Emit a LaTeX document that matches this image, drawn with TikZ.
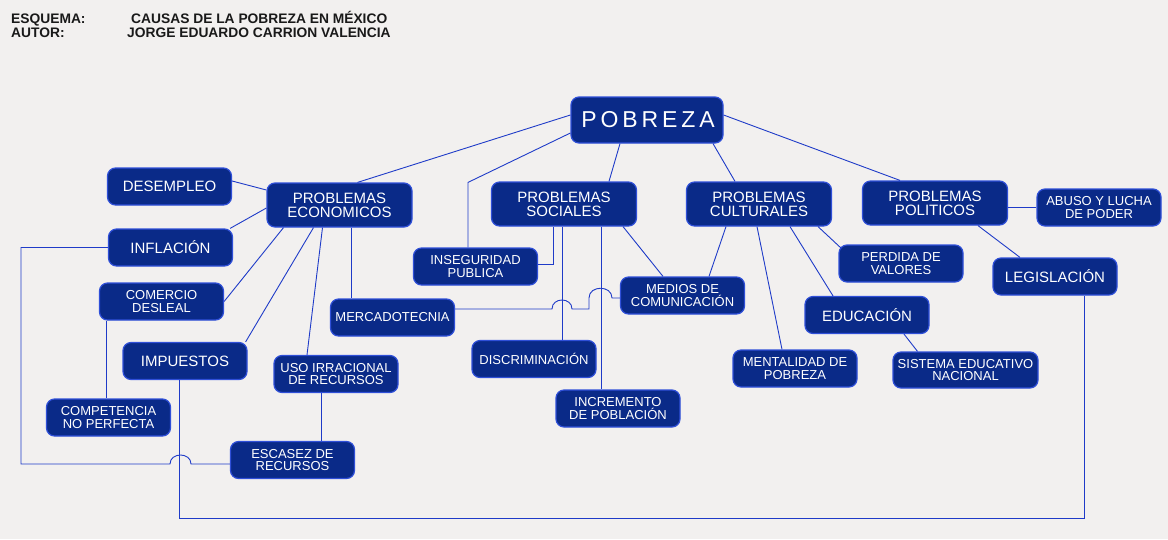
\documentclass[tikz,border=0pt]{standalone}
\usepackage{fontspec}
\setmainfont{Liberation Sans}
\newfontfamily\spacedfont[LetterSpace=17]{Liberation Sans}
\definecolor{paper}{HTML}{F2F0EF}
\definecolor{boxfill}{HTML}{0A2A88}
\definecolor{boxedge}{HTML}{2F4FD8}
\definecolor{linkblue}{HTML}{1F3BC8}

\tikzset{
  box/.style={draw=boxedge, fill=boxfill, line width=1.2pt, rounded corners=8pt,
    text=white, align=center, inner sep=0pt, minimum width=124pt, minimum height=37pt,
    font=\fontsize{13}{12.5}\selectfont},
  bigbox/.style={box, font=\fontsize{15}{14.3}\selectfont},
  probbox/.style={bigbox, minimum width=145pt, minimum height=44pt},
  head/.style={inner sep=0pt, anchor=base west, text=black!90, font=\fontsize{13.8}{13.8}\selectfont\bfseries},
  link/.style={draw=linkblue, line width=0.9pt}
}

\begin{document}
\begin{tikzpicture}[x=1pt, y=-1pt]
  % Page and margins as in the original sheet
  \fill[paper] (0,0) rectangle (1168,539);
  \useasboundingbox (0,0) rectangle (1168,539);

  % Header
  \node[head] (esquema) at (11,23) {ESQUEMA:};
  \node[head] (autor) at (11,37) {AUTOR:};
  \node[head] (tema) at (131,23) {CAUSAS DE LA POBREZA EN MÉXICO};
  \node[head] (nombre) at (127,37) {JORGE EDUARDO CARRION VALENCIA};

  % Central concept
  \node[box, minimum width=152pt, minimum height=46pt, font=\spacedfont\fontsize{23}{23}\selectfont]
    (pobreza) at (647,120) {\kern2pt POBREZA};

  % Main branches
  \node[probbox] (econ) at (339.5,205) {PROBLEMAS\\ECONOMICOS};
  \node[probbox] (social) at (564,204) {PROBLEMAS\\SOCIALES};
  \node[probbox] (cultural) at (759,204) {PROBLEMAS\\CULTURALES};
  \node[probbox] (politic) at (935,203) {PROBLEMAS\\POLITICOS};

  % Economic causes
  \node[bigbox] (desempleo) at (169.5,186.5) {DESEMPLEO};
  \node[bigbox] (inflacion) at (170.5,247.5) {INFLACIÓN};
  \node[box] (comercio) at (161.5,301.5) {COMERCIO\\DESLEAL};
  \node[bigbox] (impuestos) at (185,361) {IMPUESTOS};
  \node[box] (uso) at (336,374) {USO IRRACIONAL\\DE RECURSOS};
  \node[box] (competencia) at (108.5,417.5) {COMPETENCIA\\NO PERFECTA};
  \node[box] (escasez) at (292.5,460) {ESCASEZ DE\\RECURSOS};
  \node[box] (mercado) at (392.5,317.5) {MERCADOTECNIA};

  % Social causes
  \node[box] (inseg) at (475.5,266.5) {INSEGURIDAD\\PUBLICA};
  \node[box] (discrim) at (534,359) {DISCRIMINACIÓN};
  \node[box] (increm) at (618,408.5) {INCREMENTO\\DE POBLACIÓN};
  \node[box] (medios) at (682.5,295.5) {MEDIOS DE\\COMUNICACIÓN};

  % Cultural causes
  \node[box] (perdida) at (901,263.5) {PERDIDA DE\\VALORES};
  \node[bigbox] (educacion) at (867,315) {EDUCACIÓN};
  \node[box] (mentalidad) at (795,368.5) {MENTALIDAD DE\\POBREZA};
  \node[box, minimum width=145pt, minimum height=36pt] (sistema) at (965.5,370) {SISTEMA EDUCATIVO\\NACIONAL};

  % Political causes
  \node[box] (abuso) at (1099,207.5) {ABUSO Y LUCHA\\DE PODER};
  \node[bigbox] (legis) at (1055,276.5) {LEGISLACIÓN};

  % Links from the centre
  \draw[link] ([yshift=5pt]pobreza.west) -- ([xshift=18pt]econ.north);
  \draw[link] ([yshift=-13pt]pobreza.west) -- ([xshift=-7.5pt]inseg.north |- econ.north) -- ([xshift=-7.5pt]inseg.north);
  \draw[link] ([xshift=-27pt]pobreza.south) -- ([xshift=45pt]social.north);
  \draw[link] ([xshift=66pt]pobreza.south) -- ([xshift=-24pt]cultural.north);
  \draw[link] ([yshift=5pt]pobreza.east) -- ([xshift=-35pt]politic.north);

  % Economic links
  \draw[link] ([yshift=5.5pt]desempleo.east) -- ([yshift=15pt]econ.west);
  \draw[link] ([xshift=-3pt]inflacion.north east) -- ([yshift=-3pt]econ.west);
  \draw[link] (comercio.east) -- ([xshift=-56pt]econ.south);
  \draw[link] ([xshift=-2pt]impuestos.north east) -- ([xshift=-26pt]econ.south);
  \draw[link] ([xshift=-29pt]uso.north) -- ([xshift=-17pt]econ.south);
  \draw[link] ([xshift=12pt]econ.south) -- ([xshift=12pt]econ.south |- mercado.north);
  \draw[link] ([xshift=-15pt]uso.south) -- ([xshift=-15pt]uso.south |- escasez.north);
  \draw[link] ([xshift=-55pt]comercio.south) -- ([xshift=-55pt]comercio.south |- competencia.north);
  \draw[link] (inflacion.west) -- (21,247.5) -- (21,464) -- (170,464)
    .. controls (170,452) and (191,452) .. (191,464) -- ([yshift=-4pt]escasez.west);
  \draw[link] ([xshift=-6pt]impuestos.south) -- ++(0,138) -| ([xshift=29pt]legis.south);

  % Social links
  \draw[link] ([yshift=2.5pt]inseg.east) -| ([xshift=-11pt]social.south);
  \draw[link] ([xshift=-2pt]social.south) -- ([xshift=-2pt]social.south |- discrim.north);
  \draw[link] ([xshift=37pt]social.south) -- ([xshift=37pt]social.south |- increm.north);
  \draw[link] ([xshift=59pt]social.south) -- ([xshift=-19.5pt]medios.north);
  \draw[link] ([yshift=8.5pt]mercado.east) -- (552,309)
    .. controls (552,297) and (572,297) .. (572,309) -- (589,309) -- (589,298)
    .. controls (589,285) and (612,285) .. (612,298) -- ([yshift=-2.5pt]medios.west);

  % Cultural links
  \draw[link] ([xshift=-33pt]cultural.south) -- ([xshift=26.5pt]medios.north);
  \draw[link] ([xshift=-2pt]cultural.south) -- ([xshift=-13pt]mentalidad.north);
  \draw[link] ([xshift=31pt]cultural.south) -- ([xshift=-34pt]educacion.north);
  \draw[link] ([xshift=59pt]cultural.south) -- ([xshift=3pt,yshift=-4pt]perdida.north west);
  \draw[link] ([xshift=37pt]educacion.south) -- ([xshift=-48pt]sistema.north);

  % Political links
  \draw[link] (abuso.west) -- (abuso.west -| politic.east);
  \draw[link] ([xshift=43pt]politic.south) -- ([xshift=-35pt]legis.north);
\end{tikzpicture}
\end{document}
